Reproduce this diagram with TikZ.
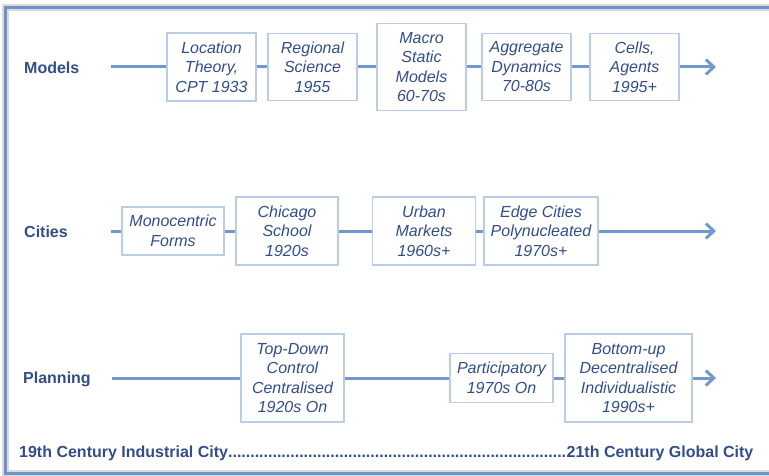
\documentclass[tikz,border=0pt]{standalone}
\usepackage{fontspec}
\setmainfont{Liberation Sans}
\usetikzlibrary{arrows.meta}
\definecolor{txt}{RGB}{50,78,138}
\definecolor{linec}{RGB}{114,153,206}
\definecolor{boxc}{RGB}{185,205,232}
\definecolor{framec}{RGB}{108,146,200}
\tikzset{
  stagebox/.style={draw=boxc, line width=1.3pt, fill=white, text=txt, align=center,
    inner sep=0pt, font=\fontsize{16}{19.5}\selectfont\itshape},
  rowlabel/.style={anchor=west, text=txt, inner sep=0pt, font=\fontsize{16}{19}\selectfont\bfseries},
  flow/.style={draw=linec, line width=3pt},
  flowarrow/.style={flow, -{Straight Barb[length=8pt,width=15pt,line width=3pt]}}
}
\begin{document}
\begin{tikzpicture}[x=1pt,y=-1pt]
\useasboundingbox (0,0) rectangle (769,476);
\fill[white] (0,0) rectangle (769,476);
% frame
\draw[gray!30, line width=7pt] (5,8) rectangle (772,473);
\draw[framec, line width=3pt] (5,8) rectangle (772,473);

% Models row
\node[rowlabel] (models) at (24,68) {Models};
\coordinate (ms) at (111,67);
\coordinate (me) at (716,67);
\node[stagebox, minimum width=89pt, minimum height=68pt] (m1) at (211.5,67) {Location\\Theory,\\CPT 1933};
\node[stagebox, minimum width=89pt, minimum height=67pt] (m2) at (312.5,67) {Regional\\Science\\1955};
\node[stagebox, minimum width=89pt, minimum height=87pt] (m3) at (421.5,67) {Macro\\Static\\Models\\60-70s};
\node[stagebox, minimum width=89pt, minimum height=67pt] (m4) at (526.5,67) {Aggregate\\Dynamics\\70-80s};
\node[stagebox, minimum width=89pt, minimum height=67pt] (m5) at (634.5,67) {Cells,\\Agents\\1995+};
\draw[flow] (ms) -- (m1.west);
\draw[flow] (m1.east) -- (m2.west);
\draw[flow] (m2.east) -- (m3.west);
\draw[flow] (m3.east) -- (m4.west);
\draw[flow] (m4.east) -- (m5.west);
\draw[flowarrow] (m5.east) -- (me);

% Cities row
\node[rowlabel] (cities) at (24,232) {Cities};
\coordinate (cs) at (111,231);
\coordinate (ce) at (716,231);
\node[stagebox, minimum width=102pt, minimum height=48pt] (c1) at (173,231) {Monocentric\\Forms};
\node[stagebox, minimum width=102pt, minimum height=68pt] (c2) at (287,231) {Chicago\\School\\1920s};
\node[stagebox, minimum width=103pt, minimum height=68pt] (c3) at (424,231) {Urban\\Markets\\1960s+};
\node[stagebox, minimum width=114pt, minimum height=68pt] (c4) at (541,231) {Edge Cities\\Polynucleated\\1970s+};
\draw[flow] (cs) -- (c1.west);
\draw[flow] (c1.east) -- (c2.west);
\draw[flow] (c2.east) -- (c3.west);
\draw[flow] (c3.east) -- (c4.west);
\draw[flowarrow] (c4.east) -- (ce);

% Planning row
\node[rowlabel] (planning) at (23,379) {Planning};
\coordinate (ps) at (112,378);
\coordinate (pe) at (716,378);
\node[stagebox, minimum width=103pt, minimum height=88pt] (p1) at (292.5,378) {Top-Down\\Control\\Centralised\\1920s On};
\node[stagebox, minimum width=103pt, minimum height=49pt] (p2) at (501.5,378) {Participatory\\1970s On};
\node[stagebox, minimum width=127pt, minimum height=88pt] (p3) at (628.5,378) {Bottom-up\\Decentralised\\Individualistic\\1990s+};
\draw[flow] (ps) -- (p1.west);
\draw[flow] (p1.east) -- (p2.west);
\draw[flow] (p2.east) -- (p3.west);
\draw[flowarrow] (p3.east) -- (pe);

% bottom line
\node[rowlabel] (era) at (19,453) {\makebox[734pt]{19th Century Industrial City\leaders\hbox{.}\hfill 21th Century Global City}};
\end{tikzpicture}
\end{document}
